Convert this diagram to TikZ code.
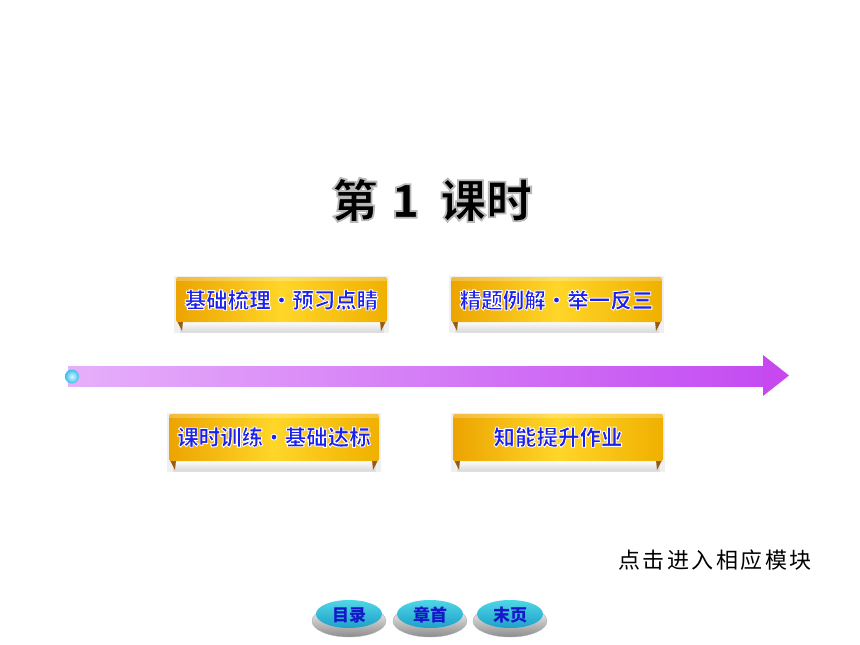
\documentclass[tikz,border=0pt]{standalone}
\usepackage{fontspec}
\newfontfamily\cjk{Noto Sans CJK SC}
\definecolor{bantext}{RGB}{28,32,236}
\definecolor{goldL}{RGB}{236,164,0}
\definecolor{goldM}{RGB}{255,214,40}
\definecolor{goldR}{RGB}{240,176,0}
\definecolor{foldbrown}{RGB}{150,90,20}
\definecolor{arrL}{RGB}{230,176,250}
\definecolor{arrR}{RGB}{196,76,242}
\definecolor{arrH}{RGB}{200,72,240}
\definecolor{btnblue}{RGB}{20,24,200}
\definecolor{btntop}{RGB}{80,214,232}
\definecolor{btnbot}{RGB}{30,160,200}
\definecolor{ballin}{RGB}{215,248,255}
\definecolor{ballout}{RGB}{60,190,235}
% outlined text: fill + stroke render mode
\newcommand\outl[3]{\special{pdf:literal direct #1 RG #2 w 2 Tr}#3\special{pdf:literal direct 0 Tr}}
\tikzset{
  bantxt/.style={font=\cjk\bfseries\fontsize{21.5}{22}\selectfont, text=bantext, inner sep=0pt},
  goldbody/.style={left color=goldL, right color=goldR, middle color=goldM, rounded corners=2pt},
  strip/.style={top color=white, bottom color=black!15, draw=black!12, line width=0.3pt},
  fold/.style={fill=foldbrown},
  btntxt/.style={font=\cjk\bfseries\fontsize{17}{17}\selectfont, text=btnblue, inner sep=0pt},
}
\newcommand\banner[6]{% x1 y1 x2 y2 name text
  \fill[black!6] (#1,#2) rectangle (#3,#4);
  \shade[strip] (#1+6,#4-12) rectangle (#3-6,#4-1);
  \fill[fold] (#1+3,#4-12) -- (#1+9,#4-12) -- (#1+8,#4-2) -- cycle;
  \fill[fold] (#3-3,#4-12) -- (#3-9,#4-12) -- (#3-8,#4-2) -- cycle;
  \shade[goldbody] (#1+2,#2+1) rectangle (#3-2,#4-11);
  \fill[white,opacity=0.25] (#1+2,#2+1) rectangle (#3-2,#2+5);
  \node[bantxt] (#5) at ({(#1+#3)/2},{#2+24}) {\outl{1 1 1}{0.9}{#6}};
}
\newcommand\button[3]{% cx name text
  \shade[top color=white, bottom color=black!45, draw=black!30, line width=0.4pt] (#1,621) ellipse [x radius=37, y radius=16];
  \shade[top color=btntop, bottom color=btnbot] (#1,614) ellipse [x radius=33, y radius=14];
  \node[btntxt] (#2) at (#1,615) {#3};
}
\begin{document}
\begin{tikzpicture}[x=1pt,y=-1pt]
\useasboundingbox (0,0) rectangle (860,645);
\fill[white] (0,0) rectangle (860,645);
% title
\node[font=\cjk\bfseries\fontsize{46}{46}\selectfont, inner sep=0pt, text=black] (title) at (432,200)
  {\outl{0.72 0.72 0.72}{1.8}{第\hspace{0.3em}1\hspace{0.45em}课时}};
% banners
\banner{174}{276}{389}{333}{b1}{基础梳理・预习点睛}
\banner{449}{276}{664}{333}{b2}{精题例解・举一反三}
\banner{167}{413}{381}{472}{b3}{课时训练・基础达标}
\banner{451}{413}{665}{472}{b4}{知能提升作业}
% arrow
\shade[left color=arrL, right color=arrR] (68,366) rectangle (764,386);
\fill[arrH] (763,355) -- (789,375.5) -- (763,396) -- cycle;
\shade[inner color=ballin, outer color=ballout] (72,376.5) circle (7);
% hint
\node[font=\cjk\fontsize{22}{22}\selectfont, inner sep=0pt] (hint) at (715,560)
  {点\hspace{2.5pt}击\hspace{2.5pt}进\hspace{2.5pt}入\hspace{2.5pt}相\hspace{2.5pt}应\hspace{2.5pt}模\hspace{2.5pt}块};
% buttons
\button{349}{m1}{目录}
\button{430}{m2}{章首}
\button{510}{m3}{末页}
\end{tikzpicture}
\end{document}
